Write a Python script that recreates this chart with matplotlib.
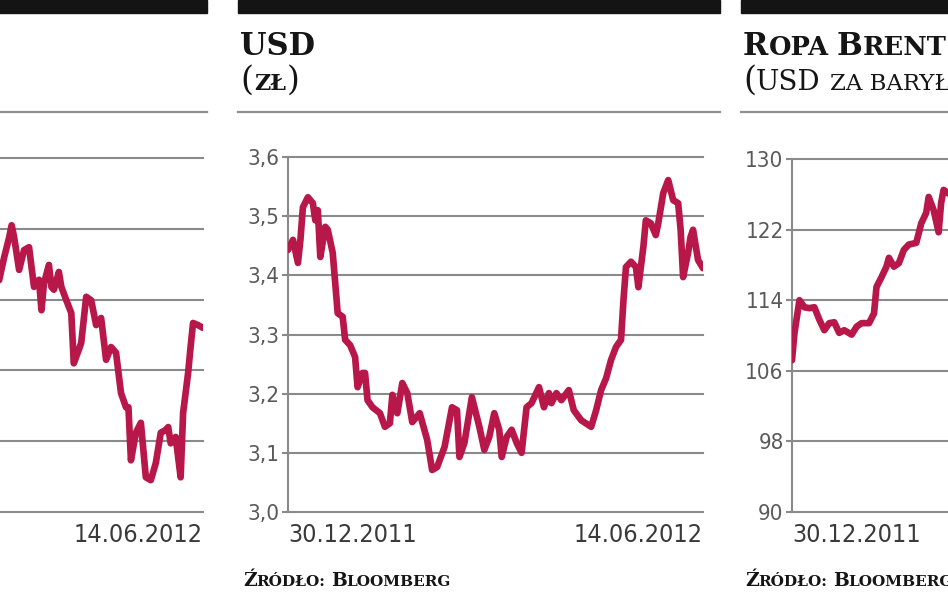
import matplotlib
matplotlib.use("Agg")
import matplotlib.pyplot as plt
from matplotlib.patches import Rectangle
from matplotlib.lines import Line2D

W, H = 948, 593

# days counted from 30.12.2011, last day = 14.06.2012
n_days = 167
date_labels = ['30.12.2011', '14.06.2012']

# left panel (only its right part is visible)
idx_days = [84, 85, 87, 89, 90, 91, 93, 95, 97, 98, 99, 101, 102, 103, 105, 106, 107, 109,
            110, 112, 114, 115, 117, 118, 120, 122, 124, 126, 128, 130, 132, 134, 136, 137,
            138, 140, 142, 144, 146, 148, 150, 152, 153, 154, 156, 158, 159, 161, 162, 163,
            165, 167]
idx_vals = [2320, 2328, 2360, 2388, 2405, 2388, 2342, 2370, 2374, 2346, 2318, 2328, 2285,
            2323, 2349, 2318, 2314, 2339, 2318, 2299, 2281, 2210, 2229, 2239, 2304, 2299,
            2264, 2274, 2215, 2233, 2225, 2168, 2148, 2148, 2073, 2112, 2126, 2049, 2045,
            2069, 2112, 2116, 2120, 2097, 2106, 2049, 2140, 2196, 2233, 2267, 2264, 2260]
idx_ticks = [2000, 2100, 2200, 2300, 2400, 2500]

# USD (zl)
usd_days = [0, 2, 4, 5, 6, 8, 10, 11, 12, 13, 15, 16, 18, 19, 20, 22, 23, 25, 27, 28, 30, 31,
            32, 34, 37, 39, 41, 42, 44, 46, 48, 50, 53, 56, 58, 60, 63, 66, 68, 69, 71, 74,
            77, 79, 81, 83, 85, 86, 88, 90, 92, 94, 96, 98, 101, 103, 105, 106, 108, 110,
            113, 115, 118, 122, 124, 126, 128, 130, 132, 134, 135, 136, 138, 140, 141, 143,
            144, 146, 148, 149, 151, 153, 155, 157, 158, 159, 161, 162, 163, 165, 167]
usd_vals = [3.443, 3.460, 3.421, 3.460, 3.515, 3.532, 3.522, 3.493, 3.510, 3.431, 3.482,
            3.477, 3.438, 3.387, 3.336, 3.330, 3.291, 3.282, 3.262, 3.211, 3.235, 3.235,
            3.189, 3.177, 3.167, 3.144, 3.150, 3.198, 3.167, 3.218, 3.201, 3.152, 3.167,
            3.122, 3.071, 3.076, 3.110, 3.177, 3.172, 3.093, 3.117, 3.194, 3.144, 3.105,
            3.127, 3.167, 3.139, 3.093, 3.127, 3.139, 3.117, 3.100, 3.177, 3.184, 3.211,
            3.177, 3.201, 3.184, 3.201, 3.189, 3.206, 3.172, 3.155, 3.144, 3.172, 3.206,
            3.226, 3.257, 3.279, 3.291, 3.358, 3.414, 3.423, 3.414, 3.380, 3.448, 3.493,
            3.488, 3.468, 3.488, 3.539, 3.561, 3.527, 3.522, 3.477, 3.397, 3.438, 3.465,
            3.477, 3.426, 3.412]
usd_ticks = [3.0, 3.1, 3.2, 3.3, 3.4, 3.5, 3.6]
usd_tick_labels = ['3,0', '3,1', '3,2', '3,3', '3,4', '3,5', '3,6']

# Ropa Brent (USD za barylke), only its left part is visible
brent_days = [0, 1, 3, 5, 7, 9, 11, 13, 15, 17, 19, 21, 24, 26, 28, 31, 33, 34, 36, 38, 39,
              41, 43, 45, 47, 50, 52, 54, 55, 57, 59, 60, 61, 64]
brent_vals = [107.2, 110.3, 114.0, 113.2, 113.1, 113.2, 111.8, 110.6, 111.4, 111.5, 110.3,
              110.6, 110.1, 111.0, 111.4, 111.4, 112.5, 115.5, 116.6, 117.8, 118.8, 117.8,
              118.2, 119.7, 120.3, 120.5, 122.7, 123.9, 125.7, 124.2, 121.7, 125.0, 126.5,
              125.9]
brent_ticks = [90, 98, 106, 114, 122, 130]

RED = '#B8174A'
GRID = '#8a8a8a'
TICKFONT = dict(family='DejaVu Sans', stretch='condensed')

fig = plt.figure(figsize=(W / 100, H / 100), dpi=100)
renderer = fig.canvas.get_renderer()


def fx(x):
    return x / W


def fy(y):
    return 1 - y / H


def mixed_text(x, y, parts, color='#151515'):
    # small caps imitation: pieces of different size on one baseline
    for s, size, weight, gap in parts:
        t = fig.text(fx(x), fy(y), s, fontsize=size, fontweight=weight,
                     family='DejaVu Serif', color=color, va='baseline', ha='left')
        x += t.get_window_extent(renderer).width + gap


def panel(left, top, days, vals, ticks, labels, dates):
    ax = fig.add_axes([fx(left), fy(512), 415 / W, (512 - top) / H])
    ax.plot(days, vals, color=RED, lw=4.8, solid_joinstyle='round',
            solid_capstyle='round', zorder=3)
    ax.set_xlim(0, n_days)
    ax.set_ylim(ticks[0], ticks[-1])
    for t in ticks:
        ax.axhline(t, color=GRID, lw=1.5, clip_on=False, zorder=1)
    for s in ['top', 'right', 'bottom']:
        ax.spines[s].set_visible(False)
    ax.spines['left'].set_color(GRID)
    ax.spines['left'].set_linewidth(1.5)
    ax.set_yticks(ticks)
    ax.set_yticklabels(labels, color='#5a5a5a', fontsize=16, **TICKFONT)
    ax.tick_params(axis='y', length=4, width=1.5, color=GRID, pad=2)
    ax.set_xticks([0, n_days])
    ax.set_xticklabels(dates, color='#3a3a3a', fontsize=18, **TICKFONT)
    ax.tick_params(axis='x', length=0, pad=8)
    xl = ax.get_xticklabels()
    xl[0].set_horizontalalignment('left')
    xl[1].set_horizontalalignment('right')
    ax.set_facecolor('none')
    return ax


# labels lying outside the visible crop are left empty
panel(-212, 158, idx_days, idx_vals, idx_ticks, [''] * len(idx_ticks), ['', date_labels[1]])
panel(288, 157, usd_days, usd_vals, usd_ticks, usd_tick_labels, date_labels)
panel(792, 159, brent_days, brent_vals, brent_ticks, [str(t) for t in brent_ticks],
      [date_labels[0], ''])

# black header bars and thin separators
for x0, x1 in [(-250, 207), (238, 720), (741, 1000)]:
    fig.patches.append(Rectangle((fx(x0), fy(13)), (x1 - x0) / W, 13 / H,
                                 transform=fig.transFigure, color='#141414', zorder=0))
    fig.lines.append(Line2D([fx(x0), fx(x1)], [fy(112), fy(112)],
                            transform=fig.transFigure, color='#8f8f8f', lw=1.6))

# titles
mixed_text(240, 55, [('USD', 22, 'bold', 0)])
mixed_text(240, 90, [('(', 24, 'normal', 1), ('ZŁ', 16, 'bold', 1), (')', 24, 'normal', 0)])
mixed_text(743, 55, [('R', 22, 'bold', 0), ('OPA', 18.5, 'bold', 8),
                     ('B', 22, 'bold', 0), ('RENT', 18.5, 'bold', 0)])
mixed_text(743, 90, [('(', 24, 'normal', 0), ('USD', 20, 'normal', 9),
                     ('ZA BARYŁKĘ)', 16.5, 'normal', 0)])

# source
for x in [243, 745]:
    mixed_text(x, 586, [('Ź', 13.5, 'bold', 0), ('RÓDŁO:', 11, 'bold', 5),
                        ('B', 13.5, 'bold', 0), ('LOOMBERG', 11, 'bold', 0)])

fig.savefig('out.png', dpi=100)
